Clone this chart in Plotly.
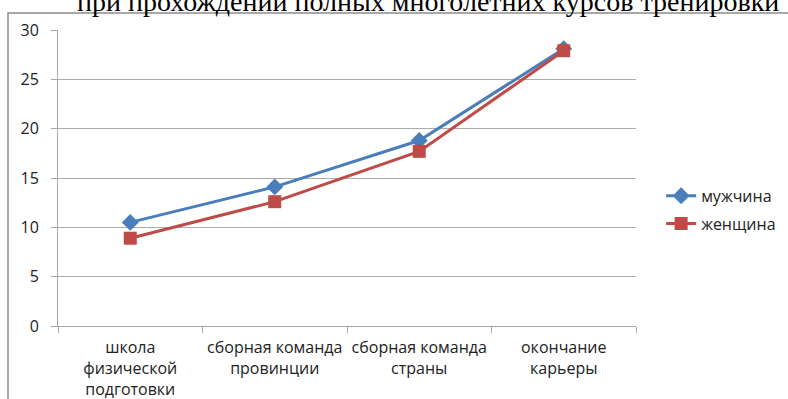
import plotly.graph_objects as go

# Stages of the sports career and the values for each group
stages = [
    "школа<br>физической<br>подготовки",
    "сборная команда<br>провинции",
    "сборная команда<br>страны",
    "окончание<br>карьеры",
]
men = [10.5, 14.1, 18.8, 28.1]
women = [8.9, 12.6, 17.7, 27.9]
y_ticks = [0, 5, 10, 15, 20, 25, 30]

title_text = "при прохождении полных многолетних курсов тренировки"

fig = go.Figure()
fig.add_trace(go.Scatter(
    x=stages, y=men, name="мужчина", mode="lines+markers", legendgroup="m",
    line=dict(color="#4A7EBB", width=3),
    marker=dict(symbol="diamond", size=13, color="#4A7EBB"),
))
fig.add_trace(go.Scatter(
    x=stages, y=women, name="женщина", mode="lines+markers", legendgroup="w",
    line=dict(color="#BE4B48", width=3),
    marker=dict(symbol="square", size=13, color="#BE4B48"),
))

text_font = dict(family="Open Sans", size=16, color="#222222")

fig.update_layout(
    width=788, height=399,
    margin=dict(l=58, r=152, t=30, b=73),
    paper_bgcolor="white", plot_bgcolor="white",
    showlegend=True,
    legend=dict(
        xref="container", yref="container",
        x=0.839, y=0.474, xanchor="left", yanchor="middle",
        font=text_font, traceorder="grouped", tracegroupgap=4,
        bgcolor="rgba(0,0,0,0)",
    ),
    xaxis=dict(
        type="category", range=[-0.5, 3.5], automargin=False,
        showline=True, linecolor="#A6A6A6", linewidth=1,
        ticks="outside", tickson="boundaries", ticklen=6, tickcolor="#A6A6A6",
        showgrid=False, tickfont=text_font, ticklabelstandoff=7,
        tickangle=0, fixedrange=True,
    ),
    yaxis=dict(
        range=[0, 30], tickvals=y_ticks, automargin=False,
        showline=True, linecolor="#A6A6A6", linewidth=1,
        ticks="outside", ticklen=6, tickcolor="#A6A6A6",
        showgrid=True, gridcolor="#ABABAB", gridwidth=1,
        zeroline=False, tickfont=text_font,
        ticklabelstandoff=9,
        fixedrange=True,
    ),
    shapes=[
        dict(type="rect", xref="paper", yref="paper",
             x0=-0.0865, x1=1.3, y0=-0.3, y1=1.0574,
             line=dict(color="#8C8C8C", width=1.5), fillcolor="rgba(0,0,0,0)",
             layer="above"),
    ],
    annotations=[
        dict(text=title_text, xref="paper", yref="paper",
             x=0.64, y=1.037, xanchor="center", yanchor="bottom",
             showarrow=False,
             font=dict(family="Liberation Serif", size=28, color="#000000")),
    ],
)

fig.write_html("out.html")
